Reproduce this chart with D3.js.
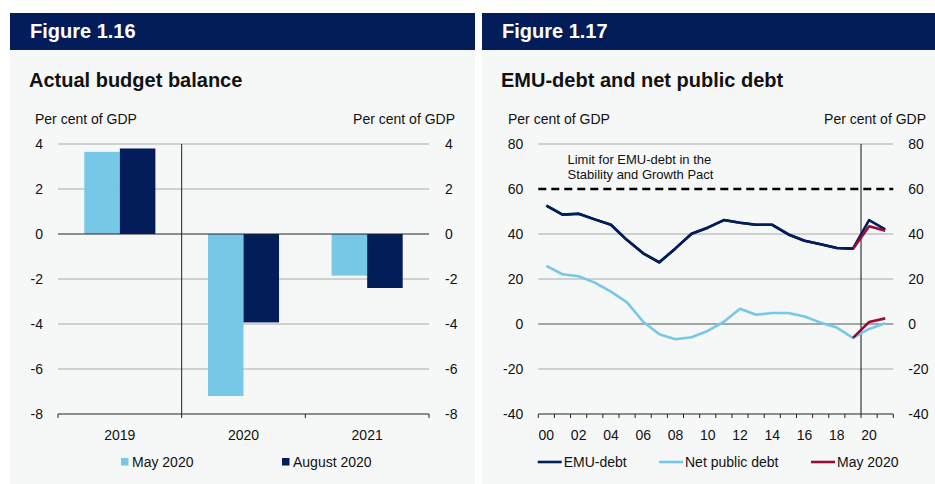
<!DOCTYPE html>
<html>
<head>
<meta charset="utf-8">
<script src="https://cdn.jsdelivr.net/npm/d3@7"></script>
<style>
  html, body { margin: 0; padding: 0; background: #ffffff; }
  svg { display: block; font-family: "Liberation Sans", Arial, sans-serif; }
</style>
</head>
<body>
<svg id="fig" width="935" height="484"></svg>
<script>
// ---- Figure 1.16: actual budget balance ----
const balanceYears = ["2019", "2020", "2021"];
const balanceSeries = ["May 2020", "August 2020"];
const balanceMay2020 = [3.65, -7.2, -1.85];
const balanceAug2020 = [3.8, -3.93, -2.4];
const balanceTicks = [4, 2, 0, -2, -4, -6, -8];

// ---- Figure 1.17: EMU-debt and net public debt ----
const debtYears = d3.range(2000, 2022);
const emuDebt = [52.6, 48.6, 49.0, 46.5, 44.1, 37.3, 31.4, 27.4, 33.6, 40.1, 42.8,
                 46.2, 45.0, 44.1, 44.1, 39.8, 37.0, 35.4, 33.8, 33.5, 46.2, 42.1];
const netPublicDebt = [25.8, 22.1, 21.2, 18.4, 14.4, 9.6, 1.0, -4.6, -6.8, -5.9, -3.1,
                       1.0, 6.8, 4.1, 4.9, 4.9, 3.3, 0.6, -1.6, -6.2, -2.2, 0.3];
const may2020Years = [2019, 2020, 2021];
const may2020Emu = [33.3, 43.4, 41.5];
const may2020Net = [-6.2, 0.9, 2.5];
const emuLimit = 60;
const debtTicks = [80, 60, 40, 20, 0, -20, -40];

const NAVY = "#031d5b";
const LIGHT = "#76c8e6";
const RED = "#9a0b3a";
const PANEL = "#f6f8f8";
const GRID = "#a8a8a8";
const TEXT = "#111111";
const FONT = "Liberation Sans, Arial, sans-serif";
const plain = d => String(d); // hyphen-minus for negatives

const svg = d3.select("#fig");

function panel(x0, x1, label, title) {
  svg.append("rect").attr("x", x0).attr("y", 50).attr("width", x1 - x0).attr("height", 434).attr("fill", PANEL);
  svg.append("rect").attr("x", x0).attr("y", 13).attr("width", x1 - x0).attr("height", 37).attr("fill", NAVY);
  svg.append("text").attr("x", x0 + 20).attr("y", 38).attr("fill", "#fff")
    .attr("font-size", 20).attr("font-weight", "bold").text(label);
  svg.append("text").attr("x", x0 + 19).attr("y", 87).attr("fill", TEXT)
    .attr("font-size", 20).attr("font-weight", "bold").text(title);
}

panel(10, 475, "Figure 1.16", "Actual budget balance");
panel(482, 935, "Figure 1.17", "EMU-debt and net public debt");

function unitLabels(xl, xr) {
  svg.append("text").attr("x", xl).attr("y", 124).attr("font-size", 14).attr("fill", TEXT).text("Per cent of GDP");
  svg.append("text").attr("x", xr).attr("y", 124).attr("font-size", 14).attr("fill", TEXT)
    .attr("text-anchor", "end").text("Per cent of GDP");
}

function styleAxisText(a) {
  a.selectAll("text").attr("font-size", 14).attr("fill", TEXT).attr("font-family", FONT);
}

// ================= Left chart =================
{
  const L = 58, R = 429, T = 144, B = 414;
  unitLabels(35, 455);
  const y = d3.scaleLinear().domain([-8, 4]).range([B, T]);
  const x = d3.scaleBand().domain(balanceYears).range([L, R]);
  const xs = d3.scaleBand().domain(balanceSeries).range([0, x.bandwidth()]).paddingOuter(0.74).paddingInner(0);
  const g = svg.append("g");

  // grid
  g.selectAll("line.grid").data(balanceTicks.filter(v => v !== 0 && v !== -8)).join("line")
    .attr("x1", L).attr("x2", R).attr("y1", d => y(d)).attr("y2", d => y(d))
    .attr("stroke", GRID).attr("stroke-width", 1);

  // bars
  const rows = balanceYears.map((yr, i) => ({ yr, vals: [balanceMay2020[i], balanceAug2020[i]] }));
  const colors = [LIGHT, NAVY];
  rows.forEach(r => {
    r.vals.forEach((v, j) => {
      g.append("rect")
        .attr("x", x(r.yr) + xs(balanceSeries[j]))
        .attr("width", xs.bandwidth())
        .attr("y", y(Math.max(0, v)))
        .attr("height", Math.abs(y(v) - y(0)))
        .attr("fill", colors[j]);
    });
  });

  // zero line and divider
  g.append("line").attr("x1", L).attr("x2", R).attr("y1", y(0)).attr("y2", y(0)).attr("stroke", "#222").attr("stroke-width", 1.2);
  g.append("line").attr("x1", x("2020")).attr("x2", x("2020")).attr("y1", T).attr("y2", B).attr("stroke", "#222").attr("stroke-width", 1);

  // axes
  const la = svg.append("g").attr("transform", `translate(${L - 12},0)`)
    .call(d3.axisLeft(y).tickValues(balanceTicks).tickSize(0).tickFormat(plain));
  const ra = svg.append("g").attr("transform", `translate(${R + 13},0)`)
    .call(d3.axisRight(y).tickValues(balanceTicks).tickSize(0).tickFormat(plain));
  [la, ra].forEach(a => { a.select(".domain").remove(); styleAxisText(a); });
  const ba = svg.append("g").attr("transform", `translate(0,${B})`)
    .call(d3.axisBottom(x).tickSize(0).tickPadding(16));
  ba.select(".domain").attr("stroke", "#222").attr("d", `M${L},0H${R}`);
  styleAxisText(ba);
  const bounds = balanceYears.map(d => x(d)).concat([R]);
  svg.append("g").selectAll("line").data(bounds).join("line")
    .attr("x1", d => d).attr("x2", d => d).attr("y1", B).attr("y2", B + 4).attr("stroke", "#222");

  // legend
  const lg = svg.append("g");
  [[121, LIGHT, balanceSeries[0]], [282, NAVY, balanceSeries[1]]].forEach(([lx, c, t]) => {
    lg.append("rect").attr("x", lx).attr("y", 458).attr("width", 7.5).attr("height", 7.5).attr("fill", c);
    lg.append("text").attr("x", lx + 11).attr("y", 467).attr("font-size", 14).attr("fill", TEXT).text(t);
  });
}

// ================= Right chart =================
{
  const L = 538.3, R = 893.3, T = 144, B = 414;
  unitLabels(508, 926);
  const y = d3.scaleLinear().domain([-40, 80]).range([B, T]);
  const x = d3.scaleBand().domain(debtYears).range([L, R]);
  const cx = d => x(d) + x.bandwidth() / 2;
  const g = svg.append("g");

  g.selectAll("line.grid").data(debtTicks.filter(v => v !== 0 && v !== -40 && v !== emuLimit)).join("line")
    .attr("x1", L).attr("x2", R).attr("y1", d => y(d)).attr("y2", d => y(d))
    .attr("stroke", GRID).attr("stroke-width", 1);
  g.append("line").attr("x1", L).attr("x2", R).attr("y1", y(0)).attr("y2", y(0)).attr("stroke", "#555").attr("stroke-width", 1.2);

  // limit line and annotation
  g.append("line").attr("x1", L).attr("x2", R).attr("y1", y(emuLimit)).attr("y2", y(emuLimit))
    .attr("stroke", "#000").attr("stroke-width", 2.6).attr("stroke-dasharray", "8,5");
  const ann = g.append("text").attr("font-size", 13).attr("fill", TEXT);
  ann.append("tspan").attr("x", 567.5).attr("y", 164).text("Limit for EMU-debt in the");
  ann.append("tspan").attr("x", 567.5).attr("y", 179).text("Stability and Growth Pact");

  // divider between outturn and projections
  g.append("line").attr("x1", x(2020)).attr("x2", x(2020)).attr("y1", T).attr("y2", B).attr("stroke", "#111").attr("stroke-width", 1);

  const line = d3.line().x(d => cx(d[0])).y(d => y(d[1]));
  const series = [
    [debtYears.map((yr, i) => [yr, netPublicDebt[i]]), LIGHT],
    [may2020Years.map((yr, i) => [yr, may2020Net[i]]), RED],
    [debtYears.map((yr, i) => [yr, emuDebt[i]]), NAVY],
    [may2020Years.map((yr, i) => [yr, may2020Emu[i]]), RED]
  ];
  series.forEach(([pts, c]) => {
    g.append("path").attr("d", line(pts)).attr("fill", "none").attr("stroke", c)
      .attr("stroke-width", 2.6).attr("stroke-linejoin", "round");
  });
  // EMU-debt outturn drawn over the May 2020 line where they share the 2019 point
  g.append("path").attr("d", line(debtYears.slice(0, 20).map((yr, i) => [yr, emuDebt[i]])))
    .attr("fill", "none").attr("stroke", NAVY).attr("stroke-width", 2.6).attr("stroke-linejoin", "round");

  const la = svg.append("g").attr("transform", `translate(${L - 12},0)`)
    .call(d3.axisLeft(y).tickValues(debtTicks).tickSize(0).tickFormat(plain));
  const ra = svg.append("g").attr("transform", `translate(${R + 12},0)`)
    .call(d3.axisRight(y).tickValues(debtTicks).tickSize(0).tickFormat(plain));
  [la, ra].forEach(a => { a.select(".domain").remove(); styleAxisText(a); });
  const ba = svg.append("g").attr("transform", `translate(0,${B})`)
    .call(d3.axisBottom(x).tickValues(debtYears.filter(d => d % 2 === 0)).tickSize(0).tickPadding(16)
      .tickFormat(d => String(d % 100).padStart(2, "0")));
  ba.select(".domain").attr("stroke", "#222").attr("d", `M${L},0H${R}`);
  styleAxisText(ba);
  const bounds = debtYears.map(d => x(d)).concat([R]);
  svg.append("g").selectAll("line").data(bounds).join("line")
    .attr("x1", d => d).attr("x2", d => d).attr("y1", B).attr("y2", B + 4).attr("stroke", "#222");

  // legend
  const lg = svg.append("g");
  [[537.7, NAVY, "EMU-debt"], [659, LIGHT, "Net public debt"], [811, RED, "May 2020"]].forEach(([lx, c, t]) => {
    lg.append("line").attr("x1", lx).attr("x2", lx + 24).attr("y1", 462).attr("y2", 462).attr("stroke", c).attr("stroke-width", 2.6);
    lg.append("text").attr("x", lx + 26).attr("y", 467).attr("font-size", 14).attr("fill", TEXT).text(t);
  });
}
</script>
</body>
</html>
